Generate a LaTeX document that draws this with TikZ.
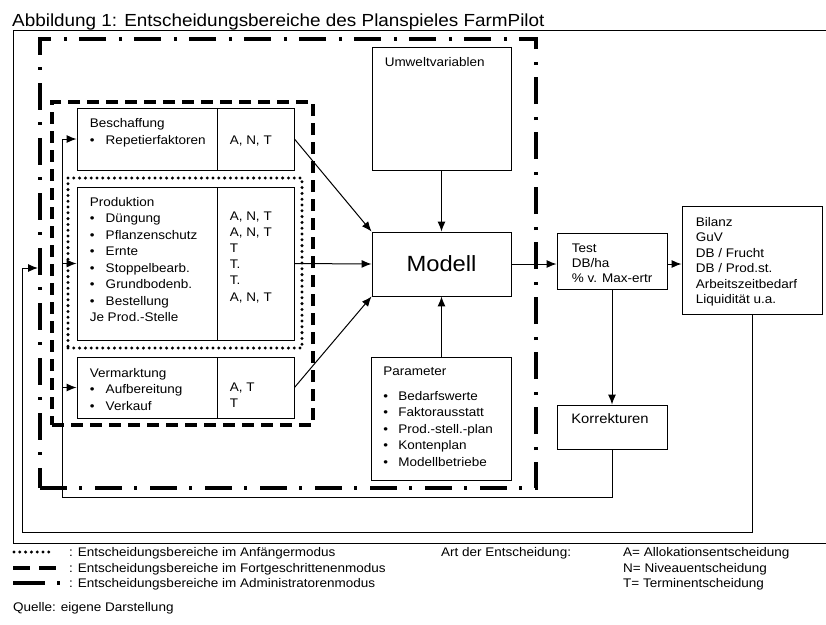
\documentclass[tikz,border=0pt]{standalone}
\usepackage{fontspec}
\setmainfont[FakeStretch=1.08]{Liberation Sans}
\usetikzlibrary{arrows.meta}

\newcommand{\blt}{\makebox[16pt][l]{\textbullet}}
\newcommand{\pblt}{\makebox[15pt][l]{\textbullet}}

\begin{document}
\begin{tikzpicture}[x=1pt, y=-1pt, >={Latex[length=10pt,width=8pt]},
	box/.style={draw, line width=0.9pt, inner sep=0pt},
	txt/.style={anchor=base west, inner sep=0pt, font=\fontsize{12.5}{16.5}\selectfont},
	conn/.style={line width=1pt},
	anfmode/.style={line width=3.3pt, line cap=round, dash pattern=on 0pt off 5.8pt},
	fortmode/.style={line width=3.5pt, dash pattern=on 12pt off 7pt},
	admmode/.style={line width=3.2pt, dash pattern=on 27pt off 12pt on 3pt off 13pt}]
	\useasboundingbox (0,0) rectangle (826,624);
	% title and frame
	\node (title) [anchor=base west, inner sep=0pt, font=\fontsize{17.5}{20}\selectfont] at (12,26) {Abbildung 1: Entscheidungsbereiche des Planspieles FarmPilot};
	\draw[line width=0.9pt] (826,30) -- (13,30) -- (13,543) -- (826,543);

	% mode frames
	\node (admbox) [admmode, draw, minimum width=496pt, minimum height=449pt] at (288,263.5) {};
	\node (fortbox) [fortmode, draw, minimum width=261pt, minimum height=323pt] at (182.5,263.5) {};
	\node (anfbox) [anfmode, draw, minimum width=234pt, minimum height=170pt] at (185,263) {};

	% decision areas
	\node (beschL) [box, minimum width=140pt, minimum height=62pt] at (147,139) {};
	\node (beschR) [box, minimum width=77pt, minimum height=62pt, node distance=108.5pt, right of=beschL] {};
	\node (prodL) [box, minimum width=140pt, minimum height=153pt, node distance=124.5pt, below of=beschL] {};
	\node (prodR) [box, minimum width=77pt, minimum height=153pt, node distance=108.5pt, right of=prodL] {};
	\node (vermL) [box, minimum width=140pt, minimum height=61pt, node distance=124pt, below of=prodL] {};
	\node (vermR) [box, minimum width=77pt, minimum height=61pt, node distance=108.5pt, right of=vermL] {};

	\node (beschT) [txt] at ([shift={(13,20)}]beschL.north west) {\begin{tabular}[t]{@{}l@{}}Beschaffung\\ \blt Repetierfaktoren\end{tabular}};
	\node (beschA) [txt] at ([shift={(13,36.5)}]beschR.north west) {A, N, T};
	\node (prodT) [txt] at ([shift={(13,19.5)}]prodL.north west) {\begin{tabular}[t]{@{}l@{}}Produktion\\ \blt Düngung\\ \blt Pflanzenschutz\\ \blt Ernte\\ \blt Stoppelbearb.\\ \blt Grundbodenb.\\ \blt Bestellung\\ Je Prod.-Stelle\end{tabular}};
	\node (prodA) [txt, font=\fontsize{12.5}{16.2}\selectfont] at ([shift={(13,33.5)}]prodR.north west) {\begin{tabular}[t]{@{}l@{}}A, N, T\\ A, N, T\\ T\\ T.\\ T.\\ A, N, T\end{tabular}};
	\node (vermT) [txt] at ([shift={(13,20.5)}]vermL.north west) {\begin{tabular}[t]{@{}l@{}}Vermarktung\\ \blt Aufbereitung\\ \blt Verkauf\end{tabular}};
	\node (vermA) [txt] at ([shift={(13,34.5)}]vermR.north west) {\begin{tabular}[t]{@{}l@{}}A, T\\ T\end{tabular}};

	% model
	\node (modell) [box, minimum width=139pt, minimum height=64pt, font=\fontsize{22}{24}\selectfont] at (441.5,264) {Modell};
	\node (umwelt) [box, minimum width=139pt, minimum height=123pt, node distance=155.5pt, above of=modell] {};
	\node (param) [box, minimum width=140pt, minimum height=123pt, node distance=154.5pt, below of=modell] {};
	\node (umweltT) [txt] at ([shift={(13,19.5)}]umwelt.north west) {Umweltvariablen};
	\node (paramT) [txt] at ([shift={(12,18.5)}]param.north west) {\begin{tabular}[t]{@{}l@{}}Parameter\\[8.5pt] \pblt Bedarfswerte\\ \pblt Faktorausstatt\\ \pblt Prod.-stell.-plan\\ \pblt Kontenplan\\ \pblt Modellbetriebe\end{tabular}};

	% results
	\node (test) [box, minimum width=110pt, minimum height=56pt] at (612,261) {};
	\node (bilanz) [box, minimum width=140pt, minimum height=108pt] at (752,260) {};
	\node (korr) [box, minimum width=110pt, minimum height=44pt, node distance=166pt, below of=test] {};
	\node (testT) [txt, font=\fontsize{12.5}{15}\selectfont] at ([shift={(15,19.5)}]test.north west) {\begin{tabular}[t]{@{}l@{}}Test\\ DB/ha\\ \% v. Max-ertr\end{tabular}};
	\node (bilanzT) [txt, font=\fontsize{12.5}{15.5}\selectfont] at ([shift={(14,20.5)}]bilanz.north west) {\begin{tabular}[t]{@{}l@{}}Bilanz\\ GuV\\ DB / Frucht\\ DB / Prod.st.\\ Arbeitszeitbedarf\\ Liquidität u.a.\end{tabular}};
	\node (korrT) [anchor=base, inner sep=0pt, font=\fontsize{13.7}{16}\selectfont] at ([shift={(-2,19)}]korr.north) {Korrekturen};

	% connectors
	\draw[conn, ->] (beschR.east) -- (modell.north west);
	\draw[conn, ->] (prodR.east) -- (modell.west);
	\draw[conn, ->] (vermR.east) -- (modell.south west);
	\draw[conn, ->] (umwelt) -- (modell);
	\draw[conn, ->] (param) -- (modell);
	\draw[conn, ->] (modell.east) -- (modell.east -| test.west);
	\draw[conn, ->] (modell.east -| test.east) -- (modell.east -| bilanz.west);
	\draw[conn, ->] (test) -- (korr);

	% feedback loops
	\coordinate (fbA) at (62,497);
	\coordinate (fbB) at (22,532);
	\coordinate (fbin) at (38,268);
	\draw[conn] (korr.south) |- (fbA) -- (fbA |- beschL.west);
	\draw[conn, ->] (fbA |- beschL.west) -- (beschL.west);
	\draw[conn, ->] (fbA |- prodL.west) -- (prodL.west);
	\draw[conn, ->] (fbA |- vermL.west) -- (vermL.west);
	\draw[conn, ->] (bilanz.south) |- (fbB) |- (fbin);

	% legend
	\node (leg1) [txt] at (69,556.5) {: Entscheidungsbereiche im Anfängermodus};
	\node (leg2) [txt] at (69,572.5) {: Entscheidungsbereiche im Fortgeschrittenenmodus};
	\node (leg3) [txt] at (69,587.5) {: Entscheidungsbereiche im Administratorenmodus};
	\draw[anfmode] ([shift={(-55,-4.5)}]leg1.base west) -- ([shift={(-15,-4.5)}]leg1.base west);
	\draw[line width=3.5pt, dash pattern=on 17pt off 9pt] ([shift={(-56,-4.5)}]leg2.base west) -- ([shift={(-13,-4.5)}]leg2.base west);
	\draw[line width=3.2pt, dash pattern=on 32pt off 12pt on 3pt off 20pt] ([shift={(-56,-4.5)}]leg3.base west) -- ([shift={(-9,-4.5)}]leg3.base west);
	\node (artT) [txt] at (441,556.5) {Art der Entscheidung:};
	\node (artkey) [txt, font=\fontsize{12.5}{15.5}\selectfont] at (623,556.5) {\begin{tabular}[t]{@{}l@{}}A= Allokationsentscheidung\\ N= Niveauentscheidung\\ T= Terminentscheidung\end{tabular}};
	\node (quelle) [txt] at (13,611.5) {Quelle: eigene Darstellung};
\end{tikzpicture}
\end{document}
